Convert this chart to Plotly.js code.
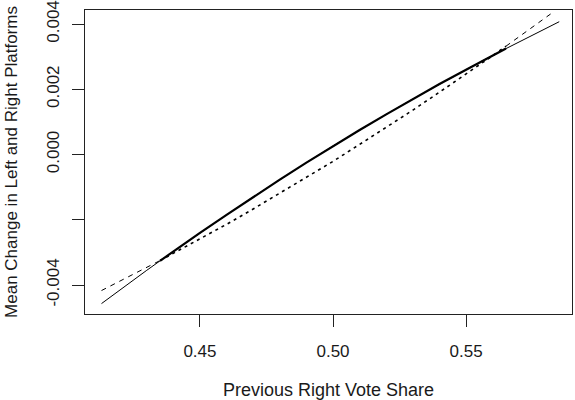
<!DOCTYPE html>
<html>
<head>
<meta charset="utf-8">
<script src="https://cdn.plot.ly/plotly-3.0.1.min.js"></script>
<style>html,body{margin:0;padding:0;background:#fff;}#chart{width:575px;height:400px;}</style>
</head>
<body>
<div id="chart"></div>
<script>
// Full-range thin solid curve
const solidX = [0.413, 0.42, 0.43, 0.44, 0.45, 0.46, 0.47, 0.48, 0.49, 0.50, 0.51, 0.52, 0.53, 0.54, 0.55, 0.56, 0.57, 0.585];
const solidY = [-0.00457, -0.00414, -0.00355, -0.00297, -0.00240, -0.00185, -0.00130, -0.00077, -0.00025, 0.00026, 0.00075, 0.00123, 0.00170, 0.00216, 0.00260, 0.00304, 0.00346, 0.00407];

// Thick solid middle section
const thickX = [0.435, 0.44, 0.45, 0.46, 0.47, 0.48, 0.49, 0.50, 0.51, 0.52, 0.53, 0.54, 0.55, 0.56, 0.565];
const thickY = [-0.00326, -0.00297, -0.00240, -0.00185, -0.00130, -0.00077, -0.00025, 0.00026, 0.00075, 0.00123, 0.00170, 0.00216, 0.00260, 0.00304, 0.00325];

// Dashed ends
const dashLeftX = [0.413, 0.42, 0.43, 0.435];
const dashLeftY = [-0.00417, -0.00388, -0.00346, -0.00325];
const dashRightX = [0.565, 0.57, 0.583];
const dashRightY = [0.00332, 0.00361, 0.00438];

// Dotted middle section
const dotX = [0.435, 0.44, 0.45, 0.46, 0.47, 0.48, 0.49, 0.50, 0.51, 0.52, 0.53, 0.54, 0.55, 0.56, 0.565];
const dotY = [-0.00325, -0.00303, -0.00259, -0.00214, -0.00167, -0.00119, -0.00071, -0.00021, 0.00031, 0.00083, 0.00136, 0.00191, 0.00246, 0.00303, 0.00332];

const xTicks = [0.45, 0.50, 0.55];
const xTickText = ["0.45", "0.50", "0.55"];
const yTicks = [-0.004, -0.002, 0.000, 0.002, 0.004];
const yTickText = ["-0.004", "", "0.000", "0.002", "0.004"];

const black = "#000";
const traces = [
  {x: solidX, y: solidY, mode: "lines", line: {color: black, width: 1}, hoverinfo: "skip"},
  {x: thickX, y: thickY, mode: "lines", line: {color: black, width: 2.2}, hoverinfo: "skip"},
  {x: dashLeftX, y: dashLeftY, mode: "lines", line: {color: black, width: 1, dash: "5px,5px"}, hoverinfo: "skip"},
  {x: dashRightX, y: dashRightY, mode: "lines", line: {color: black, width: 1, dash: "5px,5px"}, hoverinfo: "skip"},
  {x: dotX, y: dotY, mode: "lines", line: {color: black, width: 1.6, dash: "3px,4px"}, hoverinfo: "skip"}
];

const textColor = "#1a1a1a";
const layout = {
  width: 575, height: 400,
  margin: {l: 85, r: 3, t: 10, b: 86},
  paper_bgcolor: "#fff", plot_bgcolor: "#fff",
  showlegend: false,
  font: {family: "Liberation Sans, Arial, sans-serif", size: 16, color: textColor},
  xaxis: {
    range: [0.4068, 0.5898],
    tickvals: xTicks, ticktext: xTickText,
    ticks: "outside", ticklen: 12, tickwidth: 1, tickcolor: "#222",
    showline: true, mirror: true, linecolor: "#222", linewidth: 1,
    showgrid: false, zeroline: false,
    tickfont: {size: 17, color: textColor},
    ticklabelstandoff: 10,
    title: {text: "Previous Right Vote Share", font: {size: 18, color: textColor}, standoff: 26}
  },
  yaxis: {
    range: [-0.004889, 0.004429],
    tickvals: yTicks, ticktext: yTickText,
    tickangle: -90,
    ticks: "outside", ticklen: 12, tickwidth: 1, tickcolor: "#222",
    showline: true, mirror: true, linecolor: "#222", linewidth: 1,
    showgrid: false, zeroline: false,
    tickfont: {size: 17, color: textColor},
    ticklabelstandoff: 6,
    title: {text: "Mean Change in Left and Right Platforms", font: {size: 17, color: textColor}, standoff: 22}
  }
};

Plotly.newPlot("chart", traces, layout, {staticPlot: true, displayModeBar: false});
</script>
</body>
</html>
